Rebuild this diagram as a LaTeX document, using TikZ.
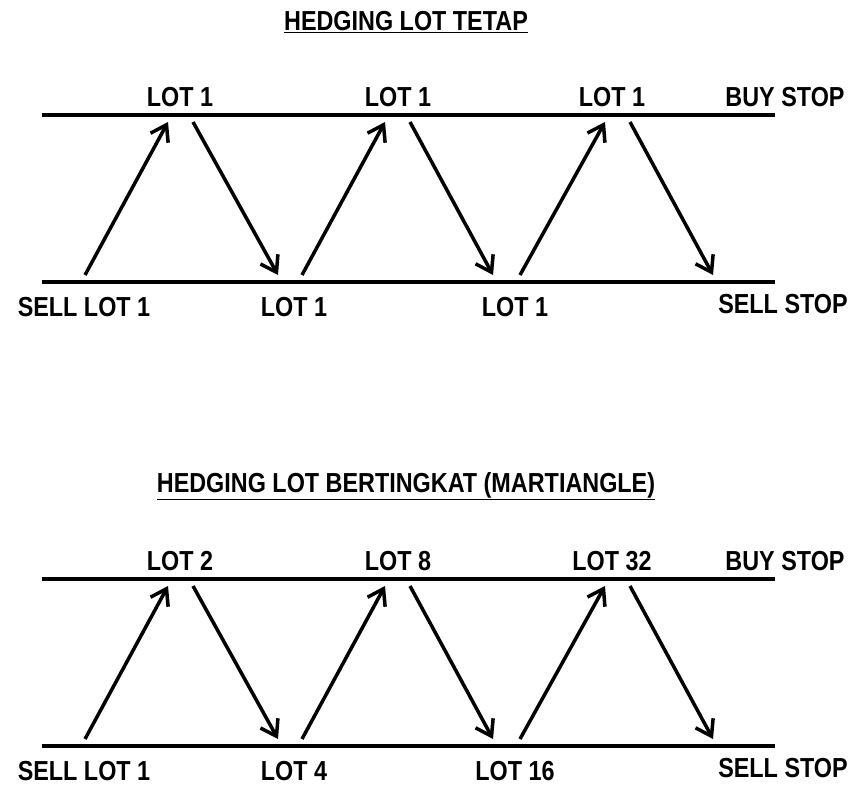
\documentclass[tikz,border=0pt]{standalone}
\usepackage{fontspec}
\setmainfont{Liberation Sans}
\usetikzlibrary{arrows.meta}
\begin{document}
\begin{tikzpicture}[x=1pt,y=-1pt,
  lvl/.style={line width=4pt},
  arr/.style={line width=3.5pt,-{Straight Barb[length=15pt,width=20pt,line width=3.5pt]}},
  lbl/.style={font=\bfseries\fontsize{27.5}{30}\selectfont,inner sep=0pt,xscale=0.85},
  ttl/.style={font=\bfseries\fontsize{27.5}{30}\selectfont,inner sep=0pt,xscale=0.85}]
\useasboundingbox (0,0) rectangle (867,795);
\foreach \dy/\tt/\a/\b/\c/\d/\e/\f/\g in {0/HEDGING LOT TETAP/1/1/1/SELL LOT 1/1/1/t, 464/HEDGING LOT BERTINGKAT (MARTIANGLE)/2/8/32/SELL LOT 1/4/16/b}{
\begin{scope}[yshift=-\dy pt]
\node[ttl] (title\g) at (406,22) {\underline{\tt}};
\coordinate (tl\g) at (42,115); \coordinate (tr\g) at (775,115);
\coordinate (bl\g) at (42,282); \coordinate (br\g) at (775,282);
\draw[lvl] (tl\g) -- (tr\g);
\draw[lvl] (bl\g) -- (br\g);
\node[lbl] (u1\g) at (180,97) {LOT \a};
\node[lbl] (u2\g) at (398,97) {LOT \b};
\node[lbl] (u3\g) at (612,97) {LOT \c};
\node[lbl] (bs\g) at (785,97) {BUY STOP};
\node[lbl] (d0\g) at (84,307) {\d};
\node[lbl] (d1\g) at (294,307) {LOT \e};
\node[lbl] (d2\g) at (515,307) {LOT \f};
\node[lbl] (ss\g) at (783,304) {SELL STOP};
\coordinate (p1\g) at (85,275); \coordinate (q1\g) at (168,122);
\coordinate (p2\g) at (193,122); \coordinate (q2\g) at (278,275);
\coordinate (p3\g) at (302,275); \coordinate (q3\g) at (385,122);
\coordinate (p4\g) at (410,122); \coordinate (q4\g) at (493,275);
\coordinate (p5\g) at (520,275); \coordinate (q5\g) at (605,122);
\coordinate (p6\g) at (630,122); \coordinate (q6\g) at (713,275);
\foreach \i in {1,...,6}{\draw[arr] (p\i\g) -- (q\i\g);}
\end{scope}}
\end{tikzpicture}
\end{document}
